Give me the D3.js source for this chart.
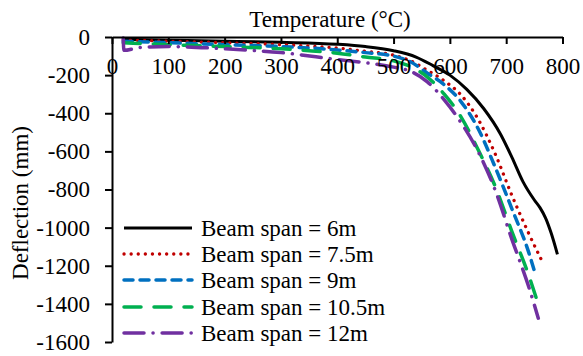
<!DOCTYPE html>
<html>
<head>
<meta charset="utf-8">
<script src="https://cdn.jsdelivr.net/npm/d3@7"></script>
<style>
    body { margin: 0; background: #fff; }
    text { font-family: "Liberation Serif", "Times New Roman", serif; font-size: 23px; fill: #000; }
</style>
</head>
<body>
<div id="chart"></div>
<script>
const spanLabels = ["Beam span = 6m", "Beam span = 7.5m", "Beam span = 9m", "Beam span = 10.5m", "Beam span = 12m"];

// temperature (°C) and deflection (mm) per span
const temp6 = [20, 100, 200, 300, 400, 450, 500, 540, 570, 600, 630, 660, 690, 710, 730, 750, 760, 770, 780, 791];
const defl6 = [-12, -17, -22, -28, -38, -50, -72, -105, -150, -200, -275, -375, -510, -630, -760, -855, -895, -950, -1030, -1140];

const temp75 = [20, 100, 200, 300, 400, 450, 500, 530, 560, 590, 620, 650, 680, 710, 740, 766];
const defl75 = [-15, -22, -30, -40, -58, -75, -95, -125, -175, -230, -305, -430, -610, -830, -1030, -1190];

const temp9 = [20, 100, 200, 300, 400, 450, 500, 530, 560, 590, 620, 650, 680, 710, 740, 750];
const defl9 = [-22, -30, -40, -50, -68, -82, -100, -130, -190, -250, -340, -480, -680, -900, -1130, -1226];

const temp105 = [20, 100, 200, 300, 400, 450, 500, 530, 560, 590, 620, 650, 680, 710, 740, 754];
const defl105 = [-30, -40, -50, -62, -85, -105, -125, -155, -210, -300, -420, -590, -780, -1020, -1250, -1375];

const temp12 = [20, 21, 50, 100, 200, 300, 400, 450, 500, 530, 560, 590, 620, 650, 680, 710, 740, 757];
const defl12 = [-5, -70, -55, -50, -62, -82, -118, -135, -158, -180, -235, -330, -450, -600, -800, -1060, -1310, -1475];

const xTicks = [0, 100, 200, 300, 400, 500, 600, 700, 800];
const yTicks = [0, -200, -400, -600, -800, -1000, -1200, -1400, -1600];

const W = 583, H = 356;

const series = [
    {label: spanLabels[0], t: temp6, d: defl6, color: "#000000", dash: null, width: 3, cap: "butt"},
    {label: spanLabels[1], t: temp75, d: defl75, color: "#C00000", dash: "0.1,7", width: 3.3, cap: "round"},
    {label: spanLabels[2], t: temp9, d: defl9, color: "#0070C0", dash: "9,7", width: 3.5, cap: "round"},
    {label: spanLabels[3], t: temp105, d: defl105, color: "#00B050", dash: "17,13", width: 3.5, cap: "round"},
    {label: spanLabels[4], t: temp12, d: defl12, color: "#7030A0", dash: "20,9,0.1,9", width: 3.5, cap: "round"}
];

const svg = d3.select("#chart")
    .append("svg")
    .attr("width", W)
    .attr("height", H);

const x = d3.scaleLinear().domain([0, 800]).range([112, 562.5]);
const y = d3.scaleLinear().domain([-1600, 0]).range([342, 37]);

// lines
const line = d3.line()
    .x(p => x(p[0]))
    .y(p => y(p[1]))
    .curve(d3.curveMonotoneX);

series.forEach(s => {
    svg.append("path")
        .datum(d3.zip(s.t, s.d))
        .attr("d", line)
        .attr("fill", "none")
        .attr("stroke", s.color)
        .attr("stroke-width", s.width)
        .attr("stroke-linecap", s.cap)
        .attr("stroke-dasharray", s.dash);
});

const plain = d => String(d);

// x axis (on top, ticks pointing down)
const xAxis = svg.append("g")
    .attr("transform", "translate(0," + y(0) + ")")
    .call(d3.axisBottom(x).tickValues(xTicks).tickFormat(plain).tickSize(7).tickSizeOuter(0));
xAxis.selectAll("text").attr("y", 37).attr("dy", 0);

// y axis
const yAxis = svg.append("g")
    .attr("transform", "translate(" + x(0) + ",0)")
    .call(d3.axisLeft(y).tickValues(yTicks).tickFormat(plain).tickSize(7).tickPadding(15).tickSizeOuter(0));

svg.selectAll(".domain, .tick line")
    .attr("stroke", "#000")
    .attr("stroke-width", 2);
[xAxis, yAxis].forEach(a => a
    .attr("font-family", "'Liberation Serif', serif")
    .attr("font-size", 23));
svg.selectAll(".tick text").attr("fill", "#000");

// titles
svg.append("text")
    .attr("x", 330)
    .attr("y", 27)
    .attr("text-anchor", "middle")
    .text("Temperature (°C)");

svg.append("text")
    .attr("transform", "translate(28,203) rotate(-90)")
    .attr("text-anchor", "middle")
    .text("Deflection (mm)");

// legend
const legendY = [228, 254, 280, 307, 333];
const legend = svg.selectAll(".legend")
    .data(series)
    .enter()
    .append("g")
    .attr("class", "legend")
    .attr("transform", (d, i) => "translate(0," + legendY[i] + ")");

legend.append("line")
    .attr("x1", 124)
    .attr("x2", 192)
    .attr("stroke", d => d.color)
    .attr("stroke-width", d => d.width)
    .attr("stroke-linecap", d => d.cap)
    .attr("stroke-dasharray", d => d.dash);

legend.append("text")
    .attr("x", 201)
    .attr("y", 8)
    .text(d => d.label);
</script>
</body>
</html>
